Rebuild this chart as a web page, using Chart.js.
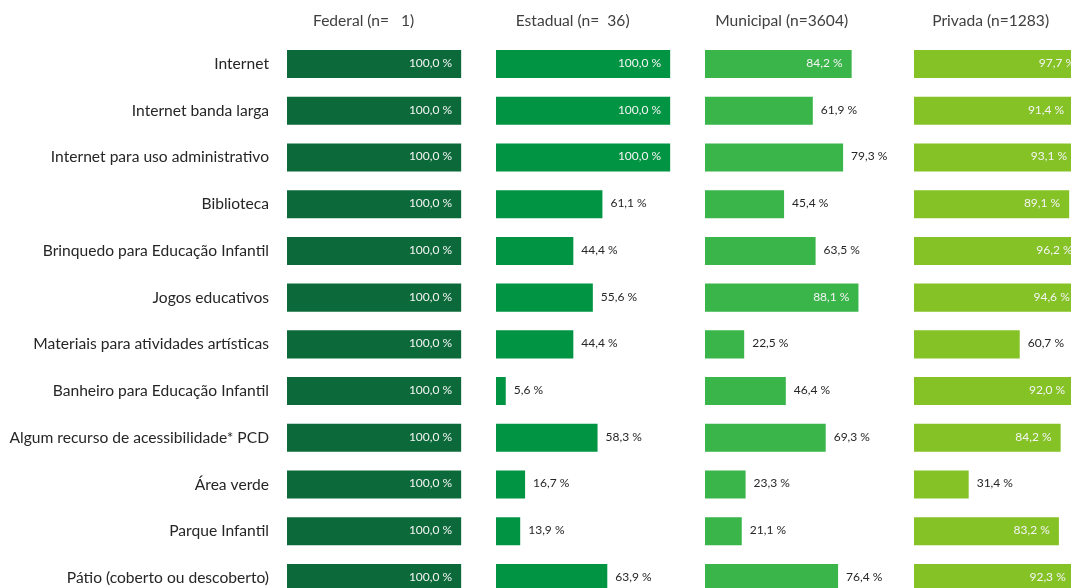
<!DOCTYPE html>
<html lang="pt-BR">
<head>
<meta charset="utf-8">
<title>Recursos das escolas por dependência administrativa</title>
<script src="https://cdn.jsdelivr.net/npm/chart.js@4.4.1/dist/chart.umd.min.js"></script>
<style>
    html, body { margin: 0; padding: 0; background: #fff; overflow: hidden; }
    #frame { width: 1071px; height: 588px; overflow: hidden; position: relative; }
    #wrap { position: absolute; left: 0; top: 0; width: 1123px; height: 620px; }
</style>
</head>
<body>
<div id="frame"><div id="wrap"><canvas id="recursosChart"></canvas></div></div>
<script>
const categorias = [
    'Internet',
    'Internet banda larga',
    'Internet para uso administrativo',
    'Biblioteca',
    'Brinquedo para Educação Infantil',
    'Jogos educativos',
    'Materiais para atividades artísticas',
    'Banheiro para Educação Infantil',
    'Algum recurso de acessibilidade* PCD',
    'Área verde',
    'Parque Infantil',
    'Pátio (coberto ou descoberto)'
];
const redes = ['Federal (n=   1)', 'Estadual (n=  36)', 'Municipal (n=3604)', 'Privada (n=1283)'];
const federal   = [100, 100, 100, 100, 100, 100, 100, 100, 100, 100, 100, 100];
const estadual  = [100, 100, 100, 61.1, 44.4, 55.6, 44.4, 5.6, 58.3, 16.7, 13.9, 63.9];
const municipal = [84.2, 61.9, 79.3, 45.4, 63.5, 88.1, 22.5, 46.4, 69.3, 23.3, 21.1, 76.4];
const privada   = [97.7, 91.4, 93.1, 89.1, 96.2, 94.6, 60.7, 92.0, 84.2, 31.4, 83.2, 92.3];

const series = [federal, estadual, municipal, privada];
const cores = ['#0c6a3a', '#009443', '#39b54a', '#85c226'];

document.addEventListener('DOMContentLoaded', function() {
    const fonte = 'Lato, "Open Sans", sans-serif';

    // one x axis per network, stacked side by side across the chart area
    const scales = {
        y: {
            type: 'category',
            grid: { display: false, drawTicks: false },
            border: { display: false },
            ticks: {
                color: '#262626',
                padding: 18,
                font: { family: fonte, size: 15.6 }
            },
            afterFit: function(scale) {
                scale.width = 287;
                scale.paddingTop = 0;
                scale.paddingBottom = 0;
            }
        }
    };
    series.forEach((valores, i) => {
        scales['x' + i] = {
            type: 'linear',
            position: 'bottom',
            stack: 'redes',
            stackWeight: 1,
            min: 0,
            max: 120,
            display: false
        };
    });

    // panel headings above each group of bars
    const titulosPlugin = {
        id: 'titulosRedes',
        afterDraw(chart) {
            const ctx = chart.ctx;
            ctx.save();
            ctx.font = '15.6px ' + fonte;
            ctx.fillStyle = '#404040';
            ctx.textAlign = 'center';
            ctx.textBaseline = 'middle';
            redes.forEach((titulo, i) => {
                const escala = chart.scales['x' + i];
                ctx.fillText(titulo, escala.getPixelForValue(44), 21);
            });
            ctx.restore();
        }
    };

    // percentage labels: inside the bar when it is long, otherwise after it
    const rotulosPlugin = {
        id: 'rotulosValores',
        afterDatasetsDraw(chart) {
            const ctx = chart.ctx;
            ctx.save();
            ctx.font = '12px ' + fonte;
            ctx.textBaseline = 'middle';
            chart.data.datasets.forEach((ds, i) => {
                chart.getDatasetMeta(i).data.forEach((bar, j) => {
                    const valor = ds.data[j];
                    const texto = valor.toFixed(1).replace('.', ',') + ' %';
                    if (valor >= 80) {
                        ctx.fillStyle = '#f4f4f4';
                        ctx.textAlign = 'right';
                        ctx.fillText(texto, bar.x - 9, bar.y - 1);
                    } else {
                        ctx.fillStyle = '#262626';
                        ctx.textAlign = 'left';
                        ctx.fillText(texto, bar.x + 8, bar.y - 1);
                    }
                });
            });
            ctx.restore();
        }
    };

    const ctx = document.getElementById('recursosChart').getContext('2d');
    new Chart(ctx, {
        type: 'bar',
        data: {
            labels: categorias,
            datasets: series.map((valores, i) => ({
                label: redes[i],
                data: valores,
                xAxisID: 'x' + i,
                backgroundColor: cores[i],
                categoryPercentage: 1,
                barPercentage: 0.6,
                grouped: false
            }))
        },
        options: {
            indexAxis: 'y',
            responsive: true,
            maintainAspectRatio: false,
            animation: false,
            layout: {
                padding: { top: 40.6, bottom: 18.6, left: 0, right: 0 }
            },
            scales: scales,
            plugins: {
                legend: { display: false },
                tooltip: { enabled: false },
                title: { display: false }
            }
        },
        plugins: [titulosPlugin, rotulosPlugin]
    });
});
</script>
</body>
</html>
